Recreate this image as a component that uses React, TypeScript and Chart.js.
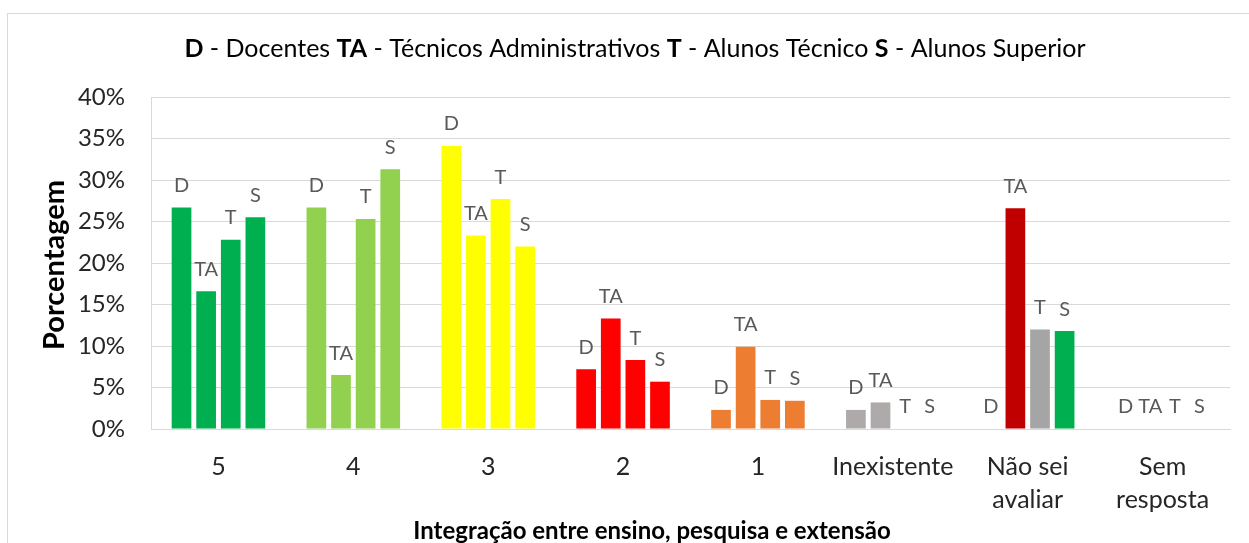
import React, { useEffect, useRef } from 'react';
import { Chart, registerables } from 'chart.js';

Chart.register(...registerables);

// ---- data ----
const categories: string[][] = [
  ['5'], ['4'], ['3'], ['2'], ['1'], ['Inexistente'], ['Não sei', 'avaliar'], ['Sem', 'resposta'],
];
const seriesCodes = ['D', 'TA', 'T', 'S'];
const seriesNames = ['Docentes', 'Técnicos Administrativos', 'Alunos Técnico', 'Alunos Superior'];
const docentes = [26.7, 26.7, 34.1, 7.2, 2.3, 2.3, 0, 0];
const tecnicosAdm = [16.6, 6.5, 23.3, 13.3, 9.9, 3.2, 26.6, 0];
const alunosTecnico = [22.8, 25.3, 27.7, 8.3, 3.5, 0, 12.0, 0];
const alunosSuperior = [25.5, 31.3, 22.0, 5.7, 3.4, 0, 11.8, 0];
const yTicks = [0, 5, 10, 15, 20, 25, 30, 35, 40];

const colorsD = ['#00B050', '#92D050', '#FFFF00', '#FF0000', '#ED7D31', '#AEAAAA', '#C00000', '#A5A5A5'];
const colorsTA = ['#00B050', '#92D050', '#FFFF00', '#FF0000', '#ED7D31', '#AEAAAA', '#C00000', '#A5A5A5'];
const colorsT = ['#00B050', '#92D050', '#FFFF00', '#FF0000', '#ED7D31', '#AEAAAA', '#A5A5A5', '#A5A5A5'];
const colorsS = ['#00B050', '#92D050', '#FFFF00', '#FF0000', '#ED7D31', '#AEAAAA', '#00B050', '#A5A5A5'];

const titleParts: [string, boolean][] = [
  ['D', true], [' - Docentes ', false],
  ['TA', true], [' - Técnicos Administrativos ', false],
  ['T', true], [' - Alunos Técnico ', false],
  ['S', true], [' - Alunos Superior', false],
];

const FONT = 'Lato, "Noto Sans", sans-serif';

const decorPlugin = {
  id: 'decor',
  beforeDraw(chart: any) {
    const ctx = chart.ctx;
    ctx.save();
    ctx.fillStyle = '#FFFFFF';
    ctx.fillRect(0, 0, chart.width, chart.height);
    ctx.strokeStyle = '#D9D9D9';
    ctx.lineWidth = 1;
    ctx.strokeRect(7.5, 13.5, chart.width + 20, chart.height + 20);
    ctx.restore();
  },
  afterDraw(chart: any) {
    const ctx = chart.ctx;
    ctx.save();
    // title
    const size = 25;
    ctx.textBaseline = 'middle';
    ctx.fillStyle = '#000000';
    let total = 0;
    for (const [t, b] of titleParts) {
      ctx.font = `${b ? 'bold ' : ''}${size}px ${FONT}`;
      total += ctx.measureText(t).width;
    }
    let x = 635 - total / 2;
    ctx.textAlign = 'left';
    for (const [t, b] of titleParts) {
      ctx.font = `${b ? 'bold ' : ''}${size}px ${FONT}`;
      ctx.fillText(t, x, 49);
      x += ctx.measureText(t).width;
    }
    // y axis title
    ctx.font = `bold 29px ${FONT}`;
    ctx.textAlign = 'center';
    ctx.translate(55, 265);
    ctx.rotate(-Math.PI / 2);
    ctx.fillText('Porcentagem', 0, 0);
    ctx.restore();
    ctx.save();
    ctx.font = `bold 24px ${FONT}`;
    ctx.textAlign = 'center';
    ctx.textBaseline = 'middle';
    ctx.fillStyle = '#000000';
    ctx.fillText('Integração entre ensino, pesquisa e extensão', 652, 531);
    ctx.restore();
  },
  afterDatasetsDraw(chart: any) {
    const ctx = chart.ctx;
    ctx.save();
    ctx.font = `20px ${FONT}`;
    ctx.fillStyle = '#595959';
    ctx.textAlign = 'center';
    ctx.textBaseline = 'middle';
    chart.data.datasets.forEach((ds: any, i: number) => {
      const meta = chart.getDatasetMeta(i);
      meta.data.forEach((el: any) => {
        ctx.fillText(seriesCodes[i], el.x, el.y - 22);
      });
    });
    ctx.restore();
  },
};

export default function App() {
  const ref = useRef<HTMLCanvasElement>(null);
  useEffect(() => {
    const canvas = ref.current!;
    const seriesValues = [docentes, tecnicosAdm, alunosTecnico, alunosSuperior];
    const seriesColors = [colorsD, colorsTA, colorsT, colorsS];
    const chart = new Chart(canvas, {
      type: 'bar',
      data: {
        labels: categories,
        datasets: seriesValues.map((vals, i) => ({
          label: seriesNames[i],
          data: vals,
          backgroundColor: seriesColors[i],
          borderWidth: 0,
          categoryPercentage: 0.73,
          barPercentage: 0.8,
        })),
      },
      options: {
        responsive: false,
        animation: false,
        events: [],
        layout: { padding: { left: 30, right: 19, top: 97, bottom: 0 } },
        plugins: {
          legend: { display: false },
          title: { display: false },
          tooltip: { enabled: false },
        },
        scales: {
          x: {
            grid: { display: false, drawTicks: false },
            border: { display: true, color: '#D9D9D9', width: 1 },
            ticks: {
              font: { family: FONT, size: 25, lineHeight: 1.3 },
              color: '#262626',
              padding: 22,
              maxRotation: 0,
              autoSkip: false,
            },
            afterFit: (s: any) => { s.height = 543 - 429; },
          },
          y: {
            min: 0,
            max: 40,
            afterBuildTicks: (s: any) => { s.ticks = yTicks.map((v) => ({ value: v })); },
            grid: { color: '#D9D9D9', drawTicks: false, lineWidth: 1 },
            border: { display: true, color: '#D9D9D9', width: 1 },
            ticks: {
              font: { family: FONT, size: 24 },
              color: '#262626',
              padding: 26,
              callback: (v: any) => `${v}%`,
            },
            afterFit: (s: any) => { s.width = 151 - 30; },
          },
        },
      },
      plugins: [decorPlugin],
    });
    return () => chart.destroy();
  }, []);
  return (
    <div style={{ position: 'fixed', left: 0, top: 0, width: 1249, height: 543, background: '#fff' }}>
      <canvas ref={ref} width={1249} height={543} style={{ display: 'block', width: 1249, height: 543 }} />
    </div>
  );
}
